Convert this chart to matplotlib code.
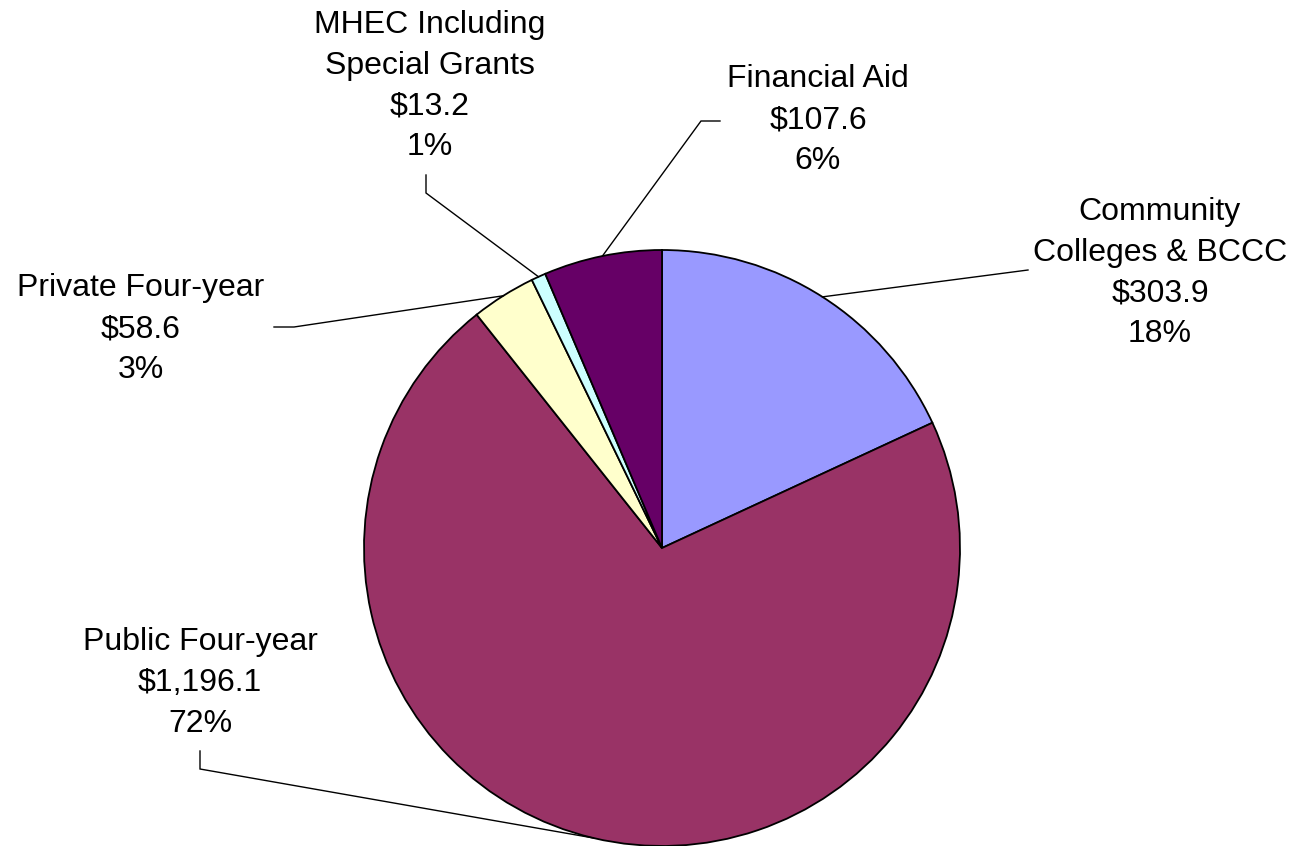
import numpy as np
import matplotlib
matplotlib.use("Agg")
import matplotlib.pyplot as plt

categories = ["Community\nColleges & BCCC", "Public Four-year", "Private Four-year",
              "MHEC Including\nSpecial Grants", "Financial Aid"]
values = [303.9, 1196.1, 58.6, 13.2, 107.6]
value_labels = ["$303.9", "$1,196.1", "$58.6", "$13.2", "$107.6"]
pct_labels = ["18%", "72%", "3%", "1%", "6%"]
colors = ["#9999FF", "#993366", "#FFFFCC", "#CCFFFF", "#660066"]

W, H = 1301, 846
fig = plt.figure(figsize=(W / 100, H / 100), dpi=100)
ax = fig.add_axes([0, 0, 1, 1])
ax.set_xlim(0, W)
ax.set_ylim(0, H)
ax.set_aspect("equal")
ax.axis("off")

cx, cy, R = 662, H - 548, 298
wedges, _ = ax.pie(values, colors=colors, startangle=90, counterclock=False,
                   center=(cx, cy), radius=R, frame=True,
                   wedgeprops=dict(edgecolor="black", linewidth=1.3))
ax.set_xlim(0, W)
ax.set_ylim(0, H)
ax.axis("off")

# label layout (pixel positions from top-left): text center, leader start, elbow
layout = [
    dict(text=(1160, 273), start=(1028, 270), elbow=(1028, 270)),
    dict(text=(200, 683), start=(200, 751), elbow=(200, 769)),
    dict(text=(141, 329), start=(274, 327), elbow=(294, 327)),
    dict(text=(430, 86), start=(426, 175), elbow=(426, 193)),
    dict(text=(818, 120), start=(720, 121), elbow=(701, 121)),
]

for w, cat, vl, pl, lay in zip(wedges, categories, value_labels, pct_labels, layout):
    mid = np.deg2rad((w.theta1 + w.theta2) / 2)
    ex, ey = cx + R * np.cos(mid), cy + R * np.sin(mid)
    tx, ty = lay["text"]
    ax.text(tx, H - ty, f"{cat}\n{vl}\n{pl}", ha="center", va="center",
            fontsize=23, family=["Liberation Sans", "DejaVu Sans"], linespacing=1.47)
    sx, sy = lay["start"]
    bx, by = lay["elbow"]
    ax.plot([sx, bx, ex], [H - sy, H - by, ey], color="black", linewidth=1.0,
            solid_joinstyle="miter")

fig.savefig("out.png", dpi=100)
